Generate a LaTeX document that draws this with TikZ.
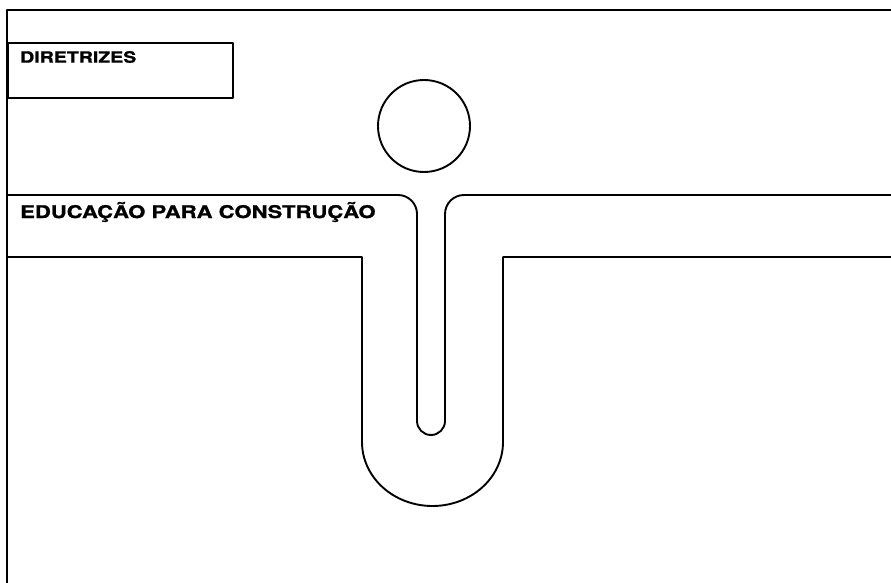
\documentclass[tikz,border=0pt]{standalone}
\usepackage{fontspec}
\newfontfamily\labelfont[FakeStretch=1.26,FakeBold=1.2]{TeX Gyre Heros}
\usetikzlibrary{positioning}

\tikzset{
  frame/.style={line width=1.9pt, line join=round},
  label/.style={font=\labelfont\bfseries, inner sep=0pt, anchor=west}
}

\begin{document}
\begin{tikzpicture}[x=1pt, y=-1pt]
  \useasboundingbox (0,0) rectangle (891,583);
  \coordinate (tl) at (7,10);
  % outer frame, open at right and bottom
  \draw[frame] (7,583) -- (tl) -- (891,10);
  \node (dirbox) [draw, frame, anchor=north west, minimum width=225pt, minimum height=55pt, inner sep=0pt] at (7,42) {};
  \node (dir) [label, font=\labelfont\bfseries\fontsize{15.5}{18}\selectfont] at (20,57) {DIRETRIZES};
  \node (head) [draw, frame, circle, minimum size=92pt, inner sep=0pt] at (424,126) {};
  % band with the stem and the U
  \draw[frame] (7,195) -- (398,195) arc (-90:0:19) -- (417,421) arc (180:0:14)
    -- (445,214) arc (180:270:19) -- (891,195);
  \draw[frame] (7,257) -- (362,257) -- (362,442) arc (180:0:70.5 and 64)
    -- (503,257) -- (891,257);
  \node (edu) [label, font=\labelfont\bfseries\fontsize{17.5}{20}\selectfont] at (20,212) {EDUCAÇÃO PARA CONSTRUÇÃO};
\end{tikzpicture}
\end{document}
